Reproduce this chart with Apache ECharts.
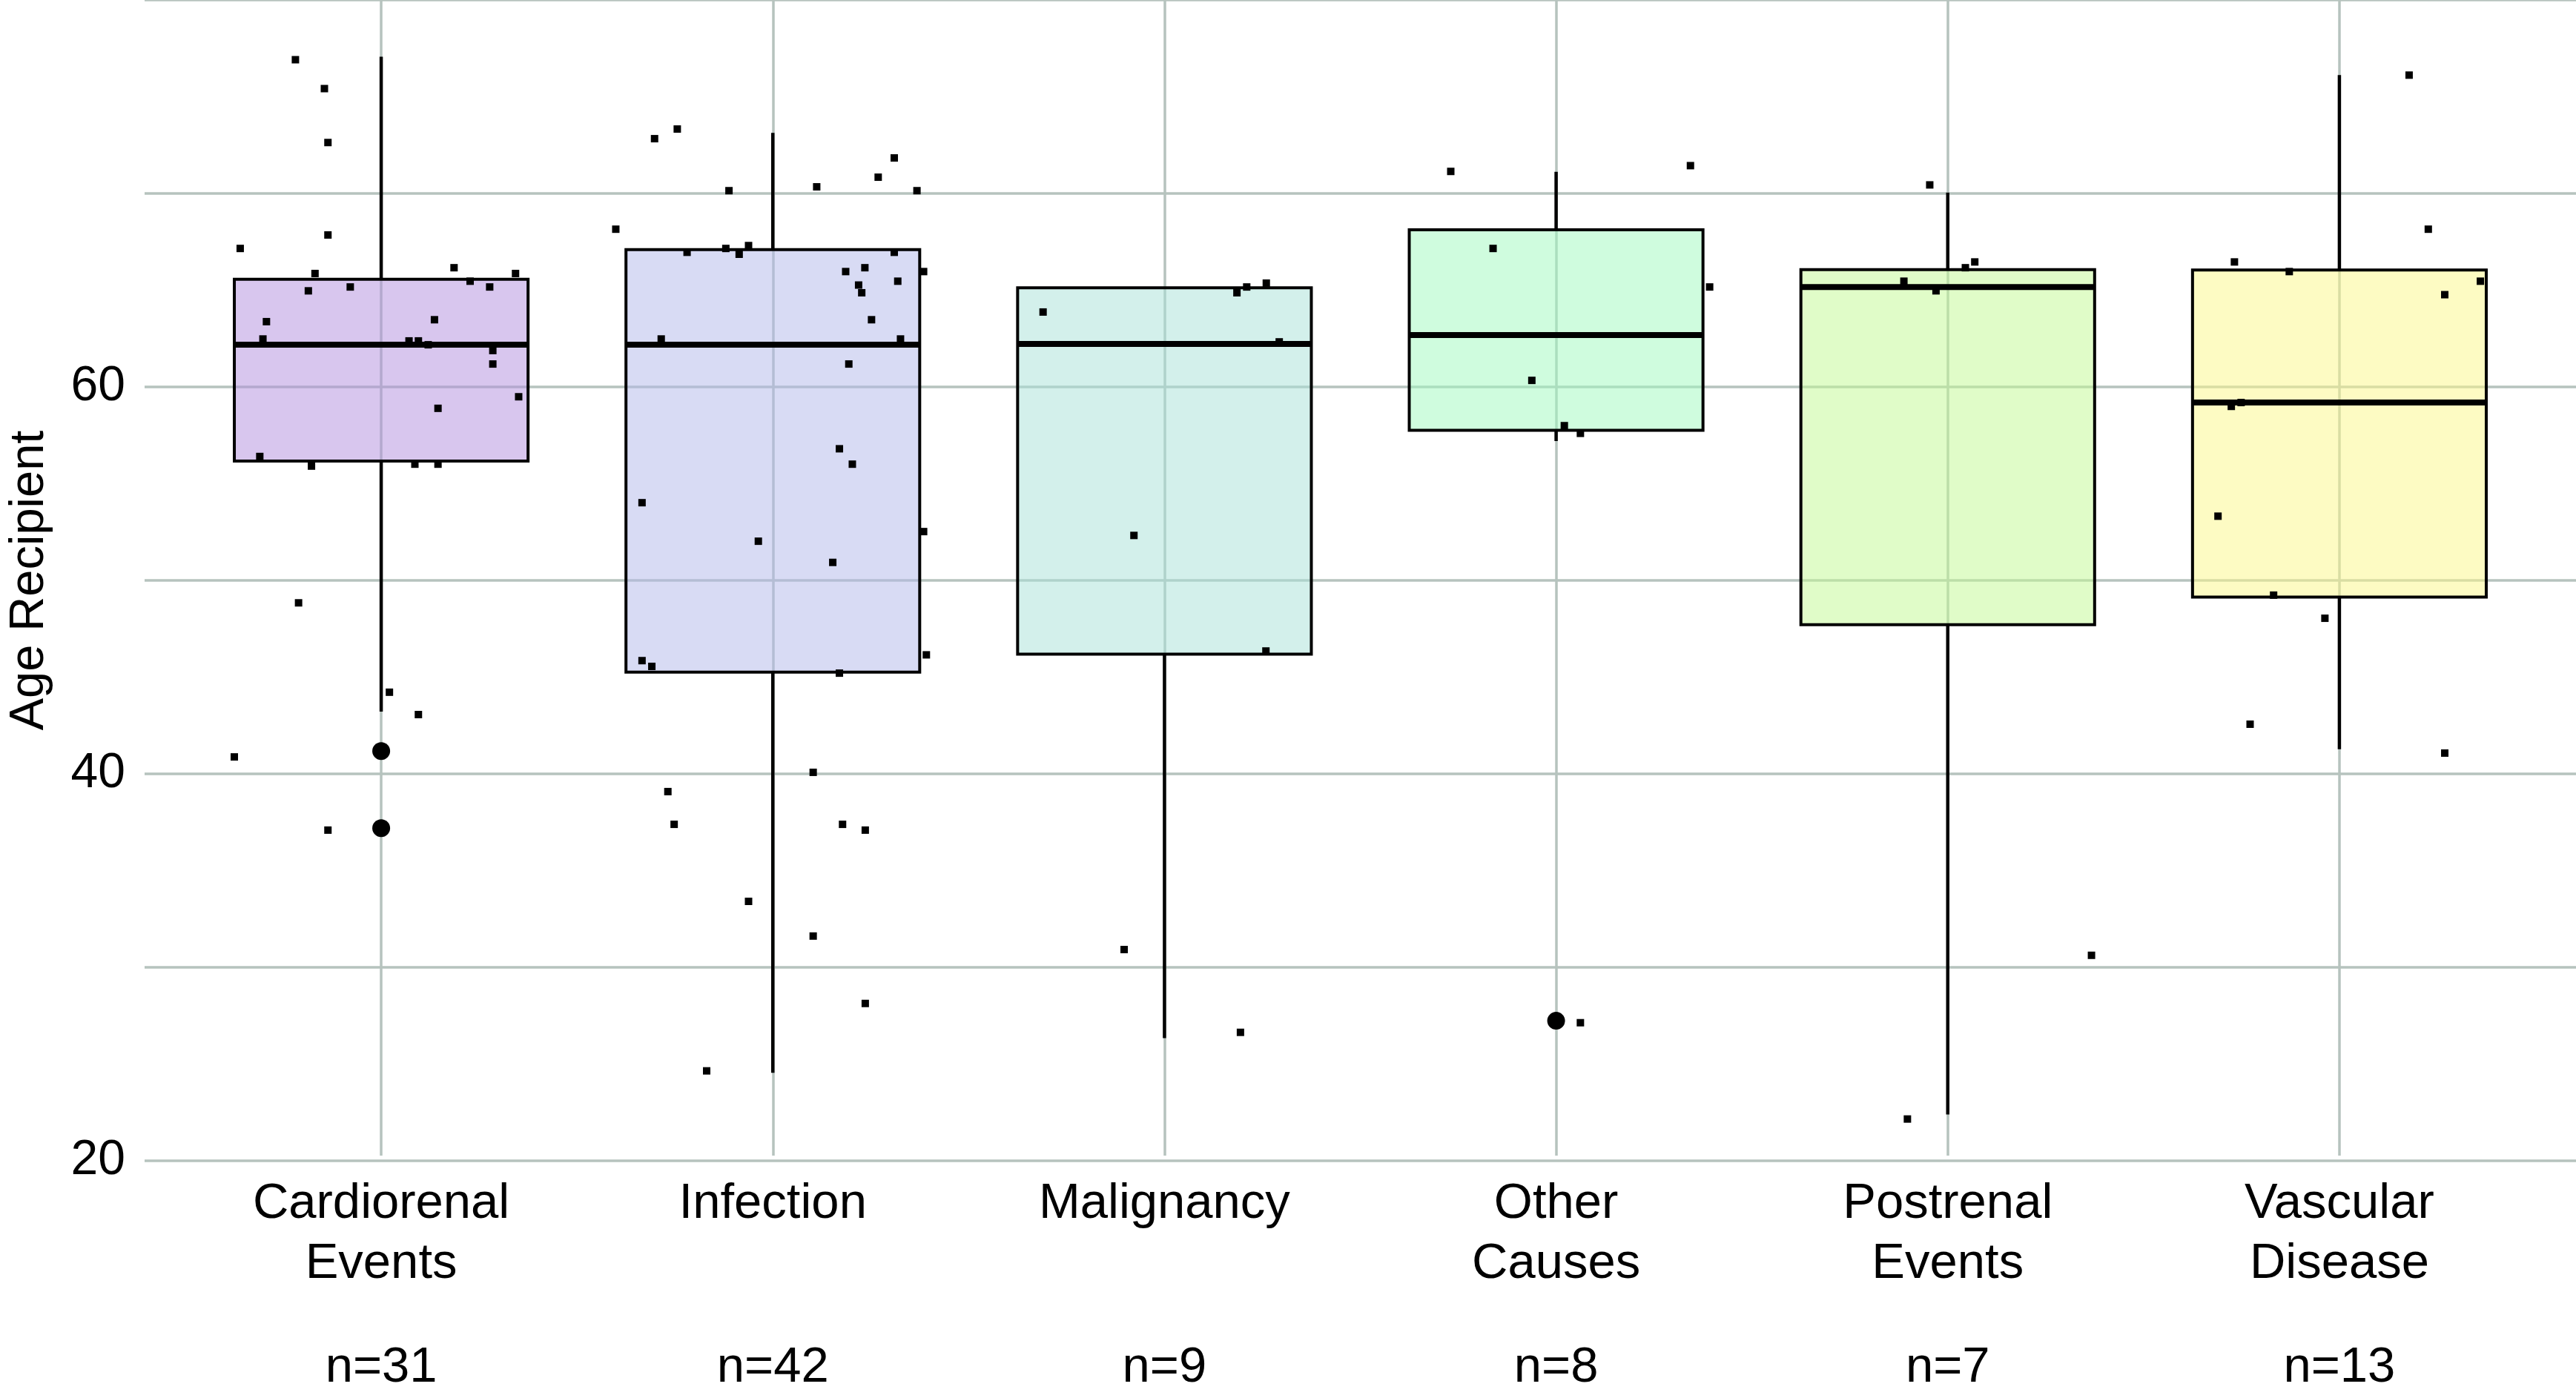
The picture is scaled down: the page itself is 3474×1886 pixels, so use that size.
<!DOCTYPE html>
<html>
<head>
<meta charset="utf-8">
<script src="https://cdn.jsdelivr.net/npm/echarts@6/dist/echarts.min.js"></script>
<style>
html,body{margin:0;padding:0;background:#fff;}
#chart{width:3474px;height:1886px;}
</style>
</head>
<body>
<div id="chart"></div>
<script>
// ---------- data ----------
const categories = ['Cardiorenal\nEvents', 'Infection', 'Malignancy', 'Other\nCauses', 'Postrenal\nEvents', 'Vascular\nDisease'];
const counts = [31, 42, 9, 8, 7, 13];
const nLabels = counts.map(n => 'n=' + n);
const yTicks = [20, 40, 60];

// box statistics
const whiskerLow  = [43.05, 24.3, 26.1, 57.1, 22.14, 41.1];
const q1          = [56.06, 45.1, 46.04, 57.66, 47.57, 49.0];
const median      = [62.1, 62.1, 62.14, 62.6, 65.1, 59.1];
const q3          = [65.5, 67.04, 65.06, 68.07, 66.0, 65.98];
const whiskerHigh = [77.06, 73.1, 65.06, 71.08, 70.0, 76.1];

// outliers (per category)
const outliers = [[41, 37], [], [], [27], [], []];

// jittered individual observations (values) per category
const pointsCardiorenal = [76.9,75.4,72.6,67.8,67.1,65.8,66.1,65.8,65.4,65.1,64.9,65.1,63.3,63.4,62.4,62.3,62.3,62.1,61.8,61.1,59.4,58.8,56.3,55.8,55.9,55.9,48.7,44.06,42.9,40.7,36.9];
const pointsInfection = [72.8,73.3,70.1,70.3,70.8,71.8,70.1,68.1,66.9,67.1,66.8,67.25,66.9,65.9,66.1,65.9,65.4,65.2,64.8,63.4,62.4,62.4,61.1,56.7,55.9,53.9,51.9,52.4,50.8,45.7,45.4,45.05,46.0,39.9,38.9,37.2,37.2,36.9,33.2,31.4,27.9,24.4];
const pointsMalignancy = [63.8,64.8,65.1,65.3,62.25,52.2,46.2,30.7,26.4];
const pointsOther = [71.1,71.4,67.1,65.1,60.25,57.9,57.5,26.9];
const pointsPostrenal = [70.4,66.1,66.4,65.4,64.9,30.4,21.9];
const pointsVascular = [76.1,68.1,66.4,65.9,65.4,64.7,58.9,59.1,53.2,49.1,47.9,42.4,40.9];

// horizontal jitter of each observation (category units)
const jitterCardiorenal = [-0.219,-0.145,-0.136,-0.136,-0.360,-0.169,0.186,0.343,0.227,0.277,-0.186,-0.079,-0.293,0.136,-0.302,0.071,0.095,0.120,0.285,0.285,0.351,0.145,-0.310,-0.178,0.086,0.145,-0.211,0.021,0.095,-0.375,-0.136];
const jitterInfection = [-0.302,-0.244,-0.112,0.112,0.269,0.310,0.368,-0.401,-0.219,-0.120,-0.086,-0.062,0.310,0.186,0.235,0.385,0.319,0.219,0.227,0.252,-0.285,0.326,0.194,0.170,0.203,-0.334,-0.037,0.385,0.153,-0.334,-0.309,0.170,0.392,0.103,-0.268,-0.252,0.178,0.236,-0.062,0.103,0.236,-0.169];
const jitterMalignancy = [-0.310,0.185,0.210,0.260,0.293,-0.078,0.259,-0.103,0.194];
const jitterOther = [-0.269,0.343,-0.161,0.392,-0.062,0.021,0.062,0.062];
const jitterPostrenal = [-0.046,0.045,0.069,-0.112,-0.030,0.367,-0.103];
const jitterVascular = [0.178,0.227,-0.268,-0.128,0.360,0.269,-0.276,-0.251,-0.310,-0.168,-0.037,-0.228,0.269];

const pointValues = [pointsCardiorenal, pointsInfection, pointsMalignancy, pointsOther, pointsPostrenal, pointsVascular];
const pointJitter = [jitterCardiorenal, jitterInfection, jitterMalignancy, jitterOther, jitterPostrenal, jitterVascular];

// ---------- styles ----------
const boxFills = [
  'rgba(177,141,221,0.5)',
  'rgba(177,183,233,0.5)',
  'rgba(167,225,215,0.5)',
  'rgba(159,249,189,0.5)',
  'rgba(193,249,145,0.5)',
  'rgba(251,247,135,0.5)'
];
const gridColor = '#B6C3BE';
const ink = '#000000';
const FONT = '"Liberation Sans", Arial, Helvetica, sans-serif';

// ---------- build series data ----------
const boxData = categories.map((c, i) => [i, whiskerLow[i], q1[i], median[i], q3[i], whiskerHigh[i]]);
const jitterData = [];
pointValues.forEach((vals, i) => vals.forEach((v, k) => jitterData.push([i + pointJitter[i][k], v])));
const outlierData = [];
outliers.forEach((vals, i) => vals.forEach(v => outlierData.push([i, v])));

const chart = echarts.init(document.getElementById('chart'), null, {renderer: 'canvas'});

const gridTop = -4, gridBottom = 320;

chart.setOption({
  backgroundColor: '#ffffff',
  animation: false,
  grid: [
    {left: 194, right: 0, top: gridTop, bottom: gridBottom},
    {left: 250, right: 55, top: gridTop, bottom: gridBottom}
  ],
  xAxis: [
    {gridIndex: 0, type: 'value', show: false, min: 0, max: 1},
    {
      gridIndex: 1, type: 'category', data: categories, position: 'bottom', boundaryGap: true,
      axisLine: {show: false, onZero: false},
      axisTick: {show: true, alignWithLabel: true, inside: true, length: 1580, lineStyle: {color: gridColor, width: 3.5}},
      axisLabel: {fontFamily: FONT, fontSize: 67, lineHeight: 81, color: ink, margin: 25, interval: 0}
    },
    {
      gridIndex: 1, type: 'category', data: nLabels, position: 'bottom', boundaryGap: true,
      axisLine: {show: false, onZero: false}, axisTick: {show: false},
      axisLabel: {fontFamily: FONT, fontSize: 67, lineHeight: 81, color: ink, margin: 246, interval: 0}
    },
    {gridIndex: 1, type: 'value', show: false, min: -0.5, max: 5.5}
  ],
  yAxis: [
    {
      gridIndex: 0, type: 'value', min: 20, max: 80, interval: 10,
      name: 'Age Recipient', nameLocation: 'middle', nameRotate: 90, nameGap: 122,
      nameTextStyle: {fontFamily: FONT, fontSize: 65, color: ink},
      axisLine: {show: false}, axisTick: {show: false},
      axisLabel: {
        fontFamily: FONT, fontSize: 66, color: ink, margin: 26,
        formatter: v => (yTicks.indexOf(v) >= 0 ? String(v) : '')
      },
      splitLine: {show: true, lineStyle: {color: gridColor, width: 3.5}}
    },
    {gridIndex: 1, type: 'value', min: 20, max: 80, show: false, splitLine: {show: false}}
  ],
  series: [
    {
      type: 'custom', xAxisIndex: 3, yAxisIndex: 1, z: 3,
      data: boxData,
      encode: {x: 0, y: [1, 2, 3, 4, 5]},
      renderItem: function (params, api) {
        const i = api.value(0);
        const pLo = api.coord([i, api.value(1)]);
        const pQ1 = api.coord([i, api.value(2)]);
        const pMed = api.coord([i, api.value(3)]);
        const pQ3 = api.coord([i, api.value(4)]);
        const pHi = api.coord([i, api.value(5)]);
        const w = api.size([0.75, 0])[0];
        const x = pQ1[0];
        return {
          type: 'group',
          children: [
            {type: 'line', shape: {x1: x, y1: pHi[1], x2: x, y2: pQ3[1]}, style: {stroke: ink, lineWidth: 4.5}},
            {type: 'line', shape: {x1: x, y1: pQ1[1], x2: x, y2: pLo[1]}, style: {stroke: ink, lineWidth: 4.5}},
            {type: 'rect', shape: {x: x - w / 2, y: pQ3[1], width: w, height: pQ1[1] - pQ3[1]},
             style: {fill: boxFills[i], stroke: ink, lineWidth: 4}},
            {type: 'line', shape: {x1: x - w / 2, y1: pMed[1], x2: x + w / 2, y2: pMed[1]}, style: {stroke: ink, lineWidth: 8}}
          ]
        };
      }
    },
    {
      type: 'scatter', xAxisIndex: 3, yAxisIndex: 1, z: 4,
      data: outlierData, symbol: 'circle', symbolSize: 24,
      itemStyle: {color: ink, opacity: 1}
    },
    {
      type: 'scatter', xAxisIndex: 3, yAxisIndex: 1, z: 5,
      data: jitterData, symbol: 'rect', symbolSize: 10,
      itemStyle: {color: ink, opacity: 1}
    }
  ]
});
</script>
</body>
</html>
